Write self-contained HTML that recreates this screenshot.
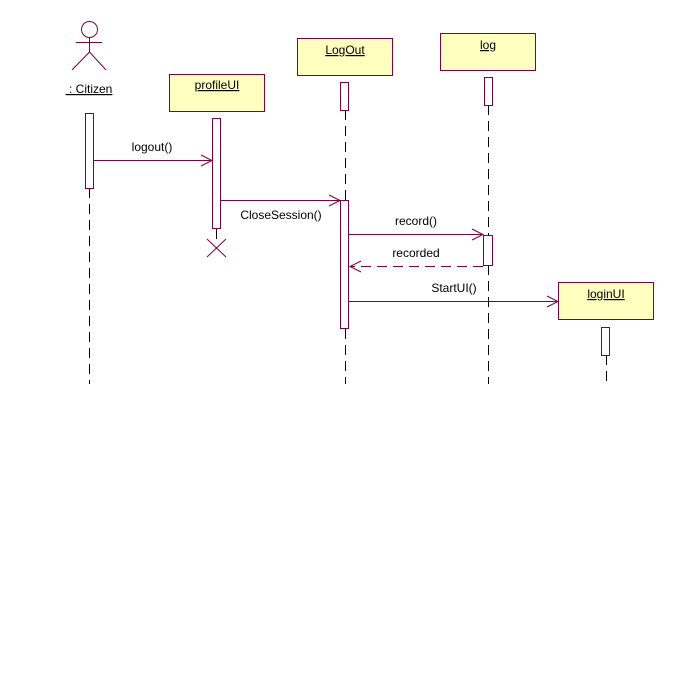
<!DOCTYPE html>
<html><head><meta charset="utf-8"><style>
html,body{margin:0;padding:0;background:#fff;width:685px;height:685px;overflow:hidden}
text{font-family:"Liberation Sans",sans-serif;font-size:12px;fill:#000}
</style></head><body>
<svg width="685" height="685" viewBox="0 0 685 685" xmlns="http://www.w3.org/2000/svg">
<g stroke="#800040" stroke-width="1" fill="none">
<circle cx="89.5" cy="29.5" r="8"/>
<line x1="89.5" y1="37.5" x2="89.5" y2="52"/>
<line x1="76" y1="42.5" x2="102" y2="42.5"/>
<line x1="89.5" y1="52" x2="72" y2="70"/>
<line x1="89.5" y1="52" x2="106" y2="70"/>
<rect x="169.5" y="74.5" width="95" height="37" fill="#ffffc0"/>
<rect x="297.5" y="38.5" width="95" height="37" fill="#ffffc0"/>
<rect x="440.5" y="33.5" width="95" height="37" fill="#ffffc0"/>
<rect x="558.5" y="282.5" width="95" height="37" fill="#ffffc0"/>
<g stroke-dasharray="10,6" stroke="#000">
<line x1="89.5" y1="188" x2="89.5" y2="384"/>
<line x1="216.5" y1="229" x2="216.5" y2="240"/>
<line x1="345.5" y1="110" x2="345.5" y2="200"/>
<line x1="345.5" y1="329" x2="345.5" y2="384"/>
<line x1="488.5" y1="105" x2="488.5" y2="384"/>
<line x1="606.5" y1="355" x2="606.5" y2="384"/>
</g>
<rect x="85.5" y="113.5" width="8" height="75" fill="#fff"/>
<rect x="212.5" y="118.5" width="8" height="110" fill="#fff"/>
<rect x="340.5" y="82.5" width="8" height="28" fill="#fff"/>
<rect x="340.5" y="200.5" width="8" height="128" fill="#fff"/>
<rect x="484.5" y="77.5" width="8" height="28" fill="#fff"/>
<rect x="483.5" y="235.5" width="9" height="30" fill="#fff"/>
<rect x="601.5" y="327.5" width="8" height="28" fill="#fff"/>
<line x1="207" y1="239" x2="226" y2="257"/>
<line x1="226" y1="239" x2="207" y2="257"/>
<line x1="93" y1="160.5" x2="212" y2="160.5"/>
<polyline points="201,155 212,160.5 201,166"/>
<line x1="221" y1="200.5" x2="340" y2="200.5"/>
<polyline points="329,195 340,200.5 329,206"/>
<line x1="349" y1="234.5" x2="483" y2="234.5"/>
<polyline points="472,229 483,234.5 472,240"/>
<line x1="483" y1="266.5" x2="350" y2="266.5" stroke-dasharray="10,6"/>
<polyline points="361,261 350,266.5 361,272"/>
<line x1="349" y1="301.5" x2="558" y2="301.5"/>
<polyline points="547,296 558,301.5 547,307"/>
</g>
<text x="89" y="93" text-anchor="middle" text-decoration="underline">&#160;: Citizen</text>
<text x="217" y="89" text-anchor="middle" text-decoration="underline">profileUI</text>
<text x="345" y="54" text-anchor="middle" text-decoration="underline">LogOut</text>
<text x="488" y="49" text-anchor="middle" text-decoration="underline">log</text>
<text x="606" y="298" text-anchor="middle" text-decoration="underline">loginUI</text>
<text x="152" y="151" text-anchor="middle">logout()</text>
<text x="281" y="219" text-anchor="middle">CloseSession()</text>
<text x="416" y="225" text-anchor="middle">record()</text>
<text x="416" y="257" text-anchor="middle">recorded</text>
<text x="454" y="292" text-anchor="middle">StartUI()</text>
</svg>
</body></html>
